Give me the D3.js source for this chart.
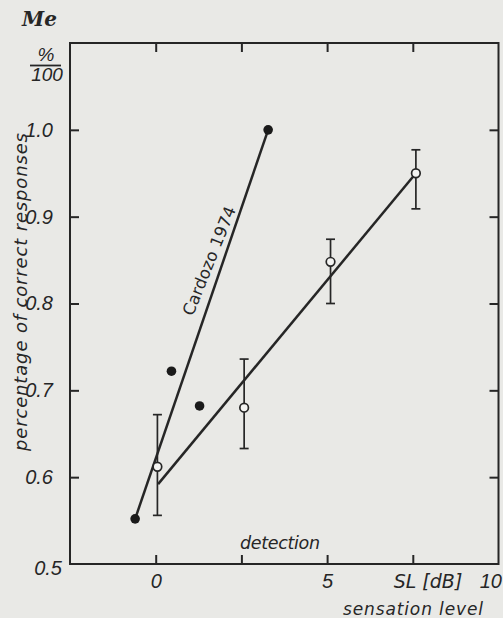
<!DOCTYPE html>
<html><head><meta charset="utf-8">
<script src="https://cdn.jsdelivr.net/npm/d3@7/dist/d3.min.js"></script>
<style>
html,body{margin:0;padding:0;background:#e9e9e6;overflow:hidden;}
svg{display:block;}
text{font-family:"DejaVu Sans",sans-serif;fill:#262626;}
</style></head>
<body>
<script>
// ---- data ----
const xTicks = [-2.5, 0, 2.5, 5, 7.5, 10];
const xTickLabels = ["", "0", "", "5", "", "10"];
const yTicks = [0.5, 0.6, 0.7, 0.8, 0.9, 1.0, 1.1];
const yTickLabels = ["0.5", "0.6", "0.7", "0.8", "0.9", "1.0", ""];
// Cardozo 1974 (filled dots)
const cardozoX = [-0.6, 0.46, 1.28, 3.28];
const cardozoY = [0.552, 0.722, 0.682, 1.0];
const cardozoFitX = [-0.6, 3.28];
const cardozoFitY = [0.552, 1.0];
// detection (open circles with error bars)
const detX = [0.05, 2.58, 5.1, 7.59];
const detY = [0.612, 0.680, 0.848, 0.950];
const detLo = [0.556, 0.633, 0.800, 0.909];
const detHi = [0.672, 0.736, 0.874, 0.977];
const detFitX = [0.07, 7.59];
const detFitY = [0.592, 0.950];

const W = 503, H = 618;
const ink = "#262626";
const numFont = "Liberation Sans";
const svg = d3.select("body").append("svg").attr("width", W).attr("height", H);

const x = d3.scaleLinear().domain([-2.5, 10]).range([70, 498.5]);
const y = d3.scaleLinear().domain([0.5, 1.1]).range([564, 43]);

// frame
svg.append("rect").attr("x", x(-2.5)).attr("y", y(1.1))
  .attr("width", x(10) - x(-2.5)).attr("height", y(0.5) - y(1.1))
  .attr("fill", "none").attr("stroke", ink).attr("stroke-width", 2);

// axes (inward ticks)
const tl = 9;
const fmtX = (d) => xTickLabels[xTicks.indexOf(d)];
const fmtY = (d) => yTickLabels[yTicks.indexOf(d)];
const styleAxis = g => {
  g.select(".domain").remove();
  g.selectAll(".tick line").attr("stroke", ink).attr("stroke-width", 2);
  g.selectAll(".tick text").attr("fill", ink).style("font-family", numFont)
    .style("font-style", "italic").style("font-size", "20px");
};
svg.append("g").attr("transform", `translate(0,${y(0.5)})`)
  .call(d3.axisBottom(x).tickValues(xTicks.slice(1, 5)).tickSize(-tl).tickPadding(10).tickFormat(fmtX))
  .call(styleAxis);
svg.append("g").attr("transform", `translate(0,${y(1.1)})`)
  .call(d3.axisTop(x).tickValues(xTicks.slice(1, 5)).tickSize(-tl).tickFormat(() => ""))
  .call(styleAxis);
svg.append("g").attr("transform", `translate(${x(-2.5)},0)`)
  .call(d3.axisLeft(y).tickValues(yTicks.slice(1, 6)).tickSize(-tl).tickPadding(17).tickFormat(fmtY))
  .call(styleAxis);
svg.append("g").attr("transform", `translate(${x(-2.5)},0)`)
  .call(d3.axisLeft(y).tickValues([0.5]).tickSize(0).tickPadding(8).tickFormat(fmtY))
  .call(styleAxis)
  .selectAll(".tick text").attr("dy", "0.52em");
svg.append("g").attr("transform", `translate(${x(10)},0)`)
  .call(d3.axisRight(y).tickValues(yTicks.slice(1, 6)).tickSize(-tl).tickFormat(() => ""))
  .call(styleAxis);
// "10" label at the right edge (kept inside the page)
svg.append("text").attr("x", W - 1).attr("y", 588).attr("text-anchor", "end")
  .style("font-family", numFont).style("font-style", "italic").style("font-size", "20px")
  .text(xTickLabels[5]);

// fit lines
const line = d3.line().x(d => x(d[0])).y(d => y(d[1]));
svg.append("path").datum(d3.zip(cardozoFitX, cardozoFitY)).attr("d", line)
  .attr("fill", "none").attr("stroke", ink).attr("stroke-width", 2.5);
svg.append("path").datum(d3.zip(detFitX, detFitY)).attr("d", line)
  .attr("fill", "none").attr("stroke", ink).attr("stroke-width", 2.5);

// error bars
const det = detX.map((d, i) => ({x: d, y: detY[i], lo: detLo[i], hi: detHi[i]}));
const eb = svg.append("g").attr("stroke", ink).attr("stroke-width", 1.7);
eb.selectAll("line.v").data(det).join("line")
  .attr("x1", d => x(d.x)).attr("x2", d => x(d.x)).attr("y1", d => y(d.lo)).attr("y2", d => y(d.hi));
eb.selectAll("line.lo").data(det).join("line")
  .attr("x1", d => x(d.x) - 4.5).attr("x2", d => x(d.x) + 4.5).attr("y1", d => y(d.lo)).attr("y2", d => y(d.lo));
eb.selectAll("line.hi").data(det).join("line")
  .attr("x1", d => x(d.x) - 4.5).attr("x2", d => x(d.x) + 4.5).attr("y1", d => y(d.hi)).attr("y2", d => y(d.hi));

// open circles
svg.append("g").selectAll("circle").data(det).join("circle")
  .attr("cx", d => x(d.x)).attr("cy", d => y(d.y)).attr("r", 4.3)
  .attr("fill", "#f4f4f2").attr("stroke", ink).attr("stroke-width", 1.7);

// filled dots
svg.append("g").selectAll("circle").data(d3.zip(cardozoX, cardozoY)).join("circle")
  .attr("cx", d => x(d[0])).attr("cy", d => y(d[1])).attr("r", 4.8).attr("fill", "#1a1a1a");

// texts
svg.append("text").attr("x", 22).attr("y", 26)
  .style("font-family", "DejaVu Serif").style("font-weight", "bold").style("font-style", "italic")
  .style("font-size", "20px").text("Me");
svg.append("text").attr("x", 46).attr("y", 61).attr("text-anchor", "middle")
  .style("font-family", numFont).style("font-style", "italic").style("font-size", "19px").text("%");
svg.append("line").attr("x1", 30).attr("x2", 61).attr("y1", 65.5).attr("y2", 65.5)
  .attr("stroke", ink).attr("stroke-width", 1.8);
svg.append("text").attr("x", 47).attr("y", 81).attr("text-anchor", "middle")
  .style("font-family", numFont).style("font-style", "italic").style("font-size", "19px").text("100");

svg.append("text").attr("transform", "translate(27,292) rotate(-90)").attr("text-anchor", "middle")
  .attr("textLength", 318).attr("lengthAdjust", "spacing")
  .style("font-style", "italic").style("font-size", "18px").text("percentage of correct responses");

svg.append("text").attr("transform", "translate(214.5,263) rotate(-68)").attr("text-anchor", "middle")
  .attr("textLength", 116).attr("lengthAdjust", "spacing")
  .style("font-size", "16.5px").text("Cardozo 1974");

svg.append("text").attr("x", 280).attr("y", 549).attr("text-anchor", "middle")
  .attr("textLength", 80).attr("lengthAdjust", "spacing")
  .style("font-style", "italic").style("font-size", "17.5px").text("detection");
svg.append("text").attr("x", 428).attr("y", 588).attr("text-anchor", "middle")
  .style("font-style", "italic").style("font-size", "19px").text("SL [dB]");
svg.append("text").attr("x", 413).attr("y", 615).attr("text-anchor", "middle")
  .attr("textLength", 140).attr("lengthAdjust", "spacing")
  .style("font-style", "italic").style("font-size", "17px").text("sensation level");
</script>
</body></html>
